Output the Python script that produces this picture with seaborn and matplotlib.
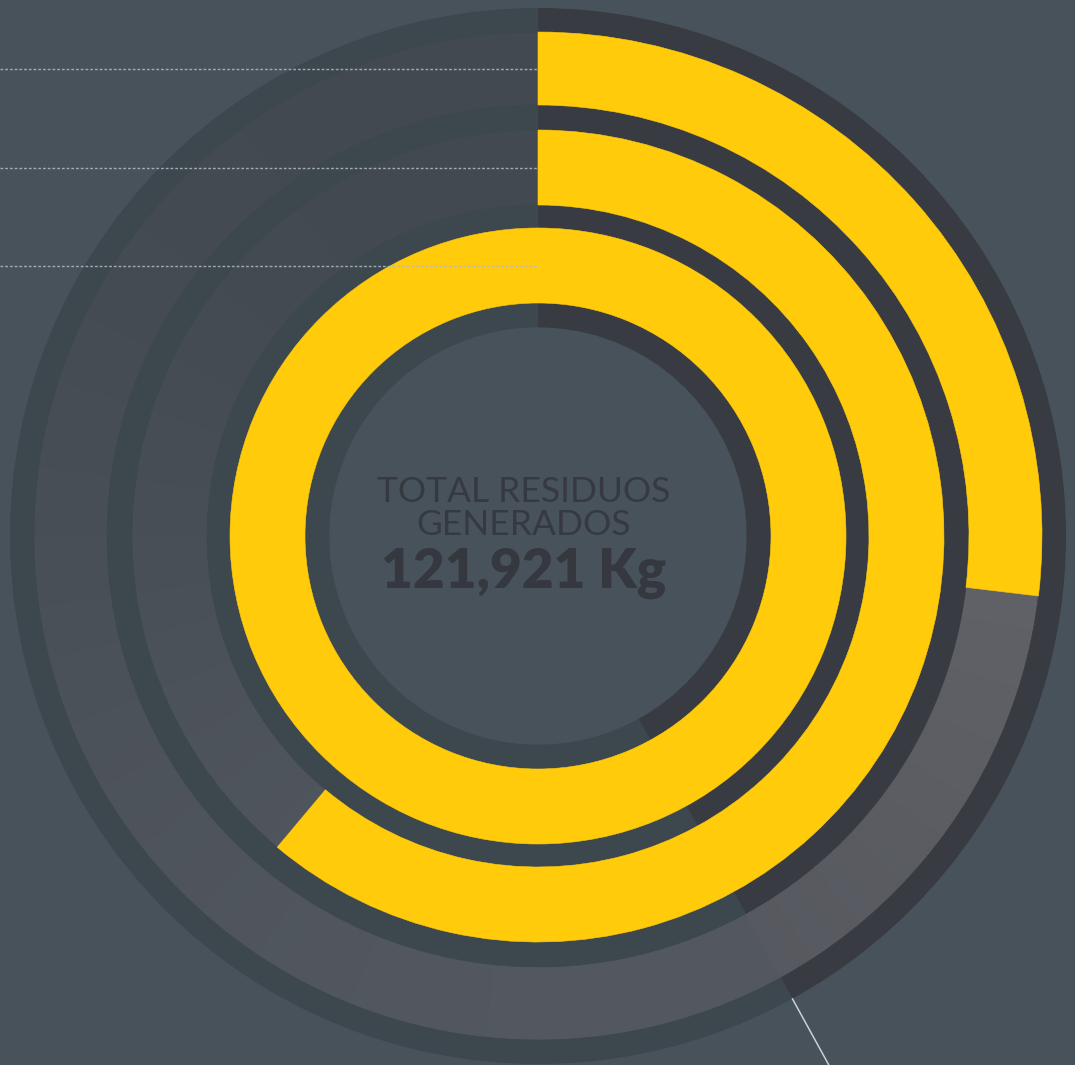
import numpy as np
import matplotlib
matplotlib.use("Agg")
import matplotlib.pyplot as plt
from matplotlib.colors import to_rgb
import seaborn as sns

# ---- data -------------------------------------------------------------
# share of the total for each ring, inner -> outer (percent)
ring_pct = [100.0, 61.1, 26.9]
# highlighted sector marking the remaining group (percent)
sector_pct = 42.0
total_title = ["TOTAL RESIDUOS", "GENERADOS"]
total_value = "121,921 Kg"

# ---- geometry (radii in pixels of the 1075x1065 canvas) ---------------
ring_inner = [233, 331, 431]
ring_outer = [308, 406, 504]
band_inner = [209, 308, 406, 504]
band_outer = [233, 331, 431, 528]
R_MAX = 528
CX, CY = 538, 536
W, H = 1075, 1065

BG = "#47525a"
YELLOW = "#ffcb0b"
BAND_DARK = "#383b42"
BAND_SOFT = "#3d474e"
TEXT = "#363a40"

sns.set_theme(style="dark", rc={"figure.facecolor": BG, "axes.facecolor": "none"})

fig = plt.figure(figsize=(W / 100, H / 100), dpi=100)
fig.patch.set_facecolor(BG)

ax = fig.add_axes([(CX - R_MAX) / W, (H - CY - R_MAX) / H, 2 * R_MAX / W, 2 * R_MAX / H],
                  projection="polar")
ax.set_theta_zero_location("N")
ax.set_theta_direction(-1)
ax.set_ylim(0, R_MAX)
ax.set_axis_off()
ax.patch.set_alpha(0)


def mix(c1, c2, t):
    a, b = np.array(to_rgb(c1)), np.array(to_rgb(c2))
    return tuple(a + (b - a) * t)


def arc(t0, t1, r0, r1, color, z=2):
    th0, th1 = np.deg2rad(t0), np.deg2rad(t1)
    ax.bar(th0, r1 - r0, width=th1 - th0, bottom=r0, align="edge",
           color=color, edgecolor=color, linewidth=0.4, zorder=z)


def shade(theta_deg):
    # soft light from the bottom, darker toward the upper left
    t = (np.cos(np.deg2rad(theta_deg - 165)) + 1) / 2
    return mix("#424950", "#53585f", t)


sector_deg = sector_pct / 100 * 360
ring_deg = [p / 100 * 360 for p in ring_pct]

# shaded ring bodies behind the bars
step = 2.0
for a in np.arange(0, 360, step):
    c = shade(a + step / 2)
    for r0, r1 in zip(ring_inner, ring_outer):
        arc(a, a + step, r0, r1, c, z=1)

# brighter wedge on the outer ring between its bar end and the sector edge
outer_end = ring_deg[2]
n = 40
edges = np.linspace(outer_end, sector_deg, n + 1)
for i in range(n):
    arc(edges[i], edges[i + 1], ring_inner[2], ring_outer[2],
        mix("#606167", "#56595f", i / (n - 1)), z=1.5)

# separating bands: dark inside the sector, soft elsewhere
for r0, r1 in zip(band_inner, band_outer):
    arc(0, sector_deg, r0, r1, BAND_DARK, z=2)
    arc(sector_deg, 360, r0, r1, BAND_SOFT, z=2)

# yellow bars
for r0, r1, d in zip(ring_inner, ring_outer, ring_deg):
    arc(0, d, r0, r1, YELLOW, z=3)

# leader line leaving the sector edge
th = np.deg2rad(sector_deg)
ax.plot([th, th], [R_MAX, 640], color="#c9d1d5", lw=1.1, clip_on=False, zorder=4)

# ---- overlay: guide lines and centre text -----------------------------
ov = fig.add_axes([0, 0, 1, 1])
ov.set_xlim(0, W)
ov.set_ylim(H, 0)
ov.set_axis_off()
ov.patch.set_alpha(0)

for r0, r1 in zip(ring_inner, ring_outer):
    y = CY - (r0 + r1) / 2
    ov.plot([0, CX], [y, y], color="#b4bbc0", lw=1.0, ls=(0, (2.0, 1.4)), alpha=0.85, zorder=5)

light = dict(family=["Lato", "DejaVu Sans"], fontweight="normal", color=TEXT,
             ha="center", va="baseline", fontsize=25.5)
ov.text(524, 502, total_title[0], **light)
ov.text(524, 535, total_title[1], **light)
ov.text(524, 588, total_value, family=["Lato", "DejaVu Sans"], fontweight="heavy",
        color="#35383e", ha="center", va="baseline", fontsize=39.5)

fig.savefig("out.png", dpi=100, facecolor=BG)
